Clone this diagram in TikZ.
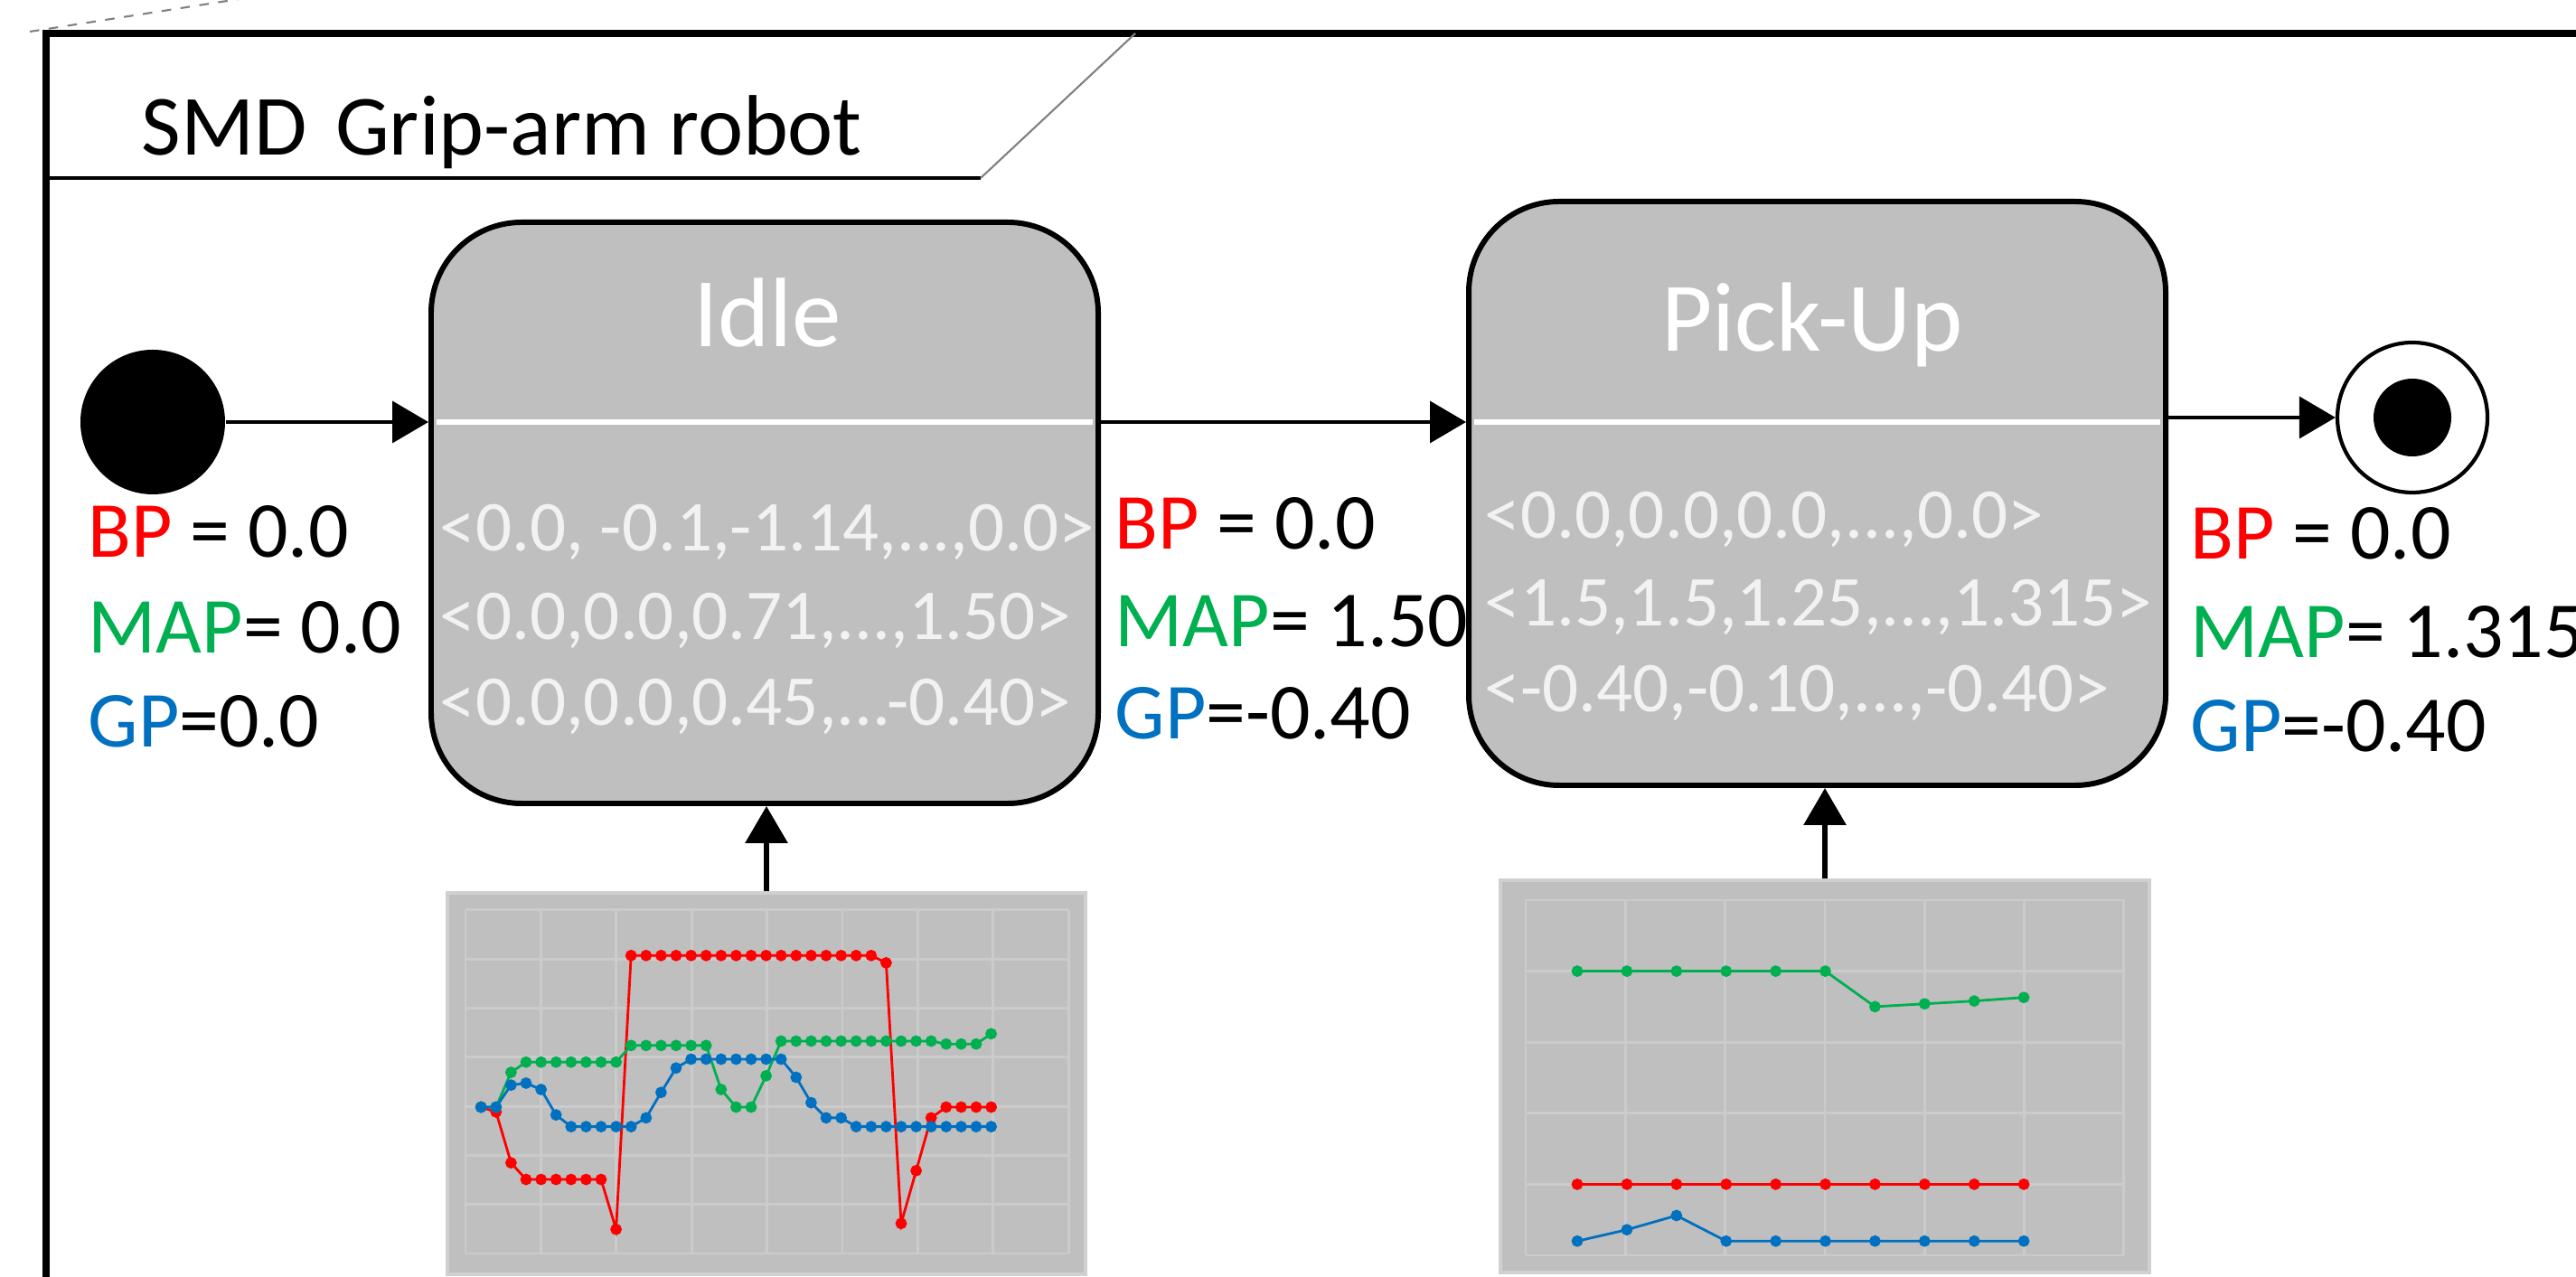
\documentclass[tikz,border=0pt]{standalone}
\usepackage{fontspec}
\setmainfont{Carlito}
\usetikzlibrary{arrows.meta, positioning, calc}

\definecolor{bpred}{RGB}{255,0,0}
\definecolor{mapgreen}{RGB}{0,176,80}
\definecolor{gpblue}{RGB}{0,112,192}
\definecolor{stategray}{RGB}{191,191,191}
\definecolor{gridgray}{RGB}{203,203,203}
\definecolor{rimgray}{RGB}{208,208,208}

\begin{document}
\begin{tikzpicture}[
		state/.style={draw, line width=1.7pt, fill=stategray, rounded corners=1cm, inner sep=0pt},
		statename/.style={text=white, font=\fontsize{31}{37}\selectfont, inner sep=0pt, anchor=base},
		vec/.style={text=white!95!black, font=\fontsize{22.5}{27}\selectfont, inner sep=0pt, anchor=base west},
		val/.style={font=\fontsize{25}{30}\selectfont, inner sep=0pt, anchor=base west},
		plotbox/.style={draw=rimgray, line width=1.2pt, fill=stategray, inner sep=0pt},
		gridline/.style={gridgray, line width=0.8pt},
		flow/.style={-{Triangle[length=4mm, width=4.6mm]}, line width=1.1pt},
		feed/.style={-{Triangle[length=4.1mm, width=4.6mm]}, line width=1.8pt},
		divider/.style={white, line width=1.7pt, shorten <=0.9mm, shorten >=0.9mm},
		series/.style={line width=0.8pt, mark size=1.4pt}
		]
		\useasboundingbox (0,0) rectangle (28.5,14.12);
		\clip (0,0) rectangle (28.5,14.12);

		% frame of the state machine and its name tab
		\draw[gray, dashed, line width=0.6pt] (0.33,13.77) -- (2.9,14.17);
		\draw[line width=2.3pt] (0.51,-1) -- (0.51,13.75) -- (29,13.75);
		\draw[line width=1.1pt] (0.51,12.15) -- (10.85,12.15);
		\draw[gray, line width=0.6pt] (10.85,12.15) -- (12.56,13.75);
		\node[font=\fontsize{27}{32}\selectfont, inner sep=0pt, anchor=base west] (frametitle) at (1.56,12.40) {SMD\hskip0.33em Grip-arm robot};

		% pseudo states
		\node[circle, fill=black, minimum size=1.6cm, inner sep=0pt] (init) at (1.69,9.45) {};
		\node[circle, draw, line width=1.2pt, minimum size=1.66cm, inner sep=0pt] (final) at (26.69,9.50) {};
		\node[circle, fill=black, minimum size=0.86cm, inner sep=0pt] (finaldot) at (final) {};

		% states
		\node[state, minimum width=7.38cm, minimum height=6.43cm] (idle) at (8.46,8.445) {};
		\node[state, minimum width=7.71cm, minimum height=6.46cm] (pickup) at (20.105,8.66) {};
		\draw[divider] (idle.west |- init) -- (idle.east |- init);
		\draw[divider] (pickup.west |- init) -- (pickup.east |- init);
		\node[statename] (idlename) at (8.49,10.28) {Idle};
		\node[statename] (pickupname) at (20.05,10.23) {Pick-Up};

		\node[vec] (idlebp) at (4.86,8.02) {<0.0, -0.1,-1.14,...,0.0>};
		\node[vec] (idlemap) at (4.86,7.04) {<0.0,0.0,0.71,...,1.50>};
		\node[vec] (idlegp) at (4.86,6.09) {<0.0,0.0,0.45,...-0.40>};
		\node[vec] (pickupbp) at (16.42,8.16) {<0.0,0.0,0.0,...,0.0>};
		\node[vec] (pickupmap) at (16.42,7.19) {<1.5,1.5,1.25,...,1.315>};
		\node[vec] (pickupgp) at (16.42,6.24) {<-0.40,-0.10,...,-0.40>};

		% values on the transitions
		\node[val] (bpa) at (0.97,7.95) {\textcolor{bpred}{BP} = 0.0};
		\node[val] (mapa) at (0.97,6.89) {\textcolor{mapgreen}{MAP}= 0.0};
		\node[val] (gpa) at (0.97,5.85) {\textcolor{gpblue}{GP}=0.0};
		\node[val] (bpb) at (12.33,8.04) {\textcolor{bpred}{BP} = 0.0};
		\node[val] (mapb) at (12.33,6.96) {\textcolor{mapgreen}{MAP}= 1.50};
		\node[val] (gpb) at (12.33,5.94) {\textcolor{gpblue}{GP}=-0.40};
		\node[val] (bpc) at (24.23,7.93) {\textcolor{bpred}{BP} = 0.0};
		\node[val] (mapc) at (24.23,6.84) {\textcolor{mapgreen}{MAP}= 1.315};
		\node[val] (gpc) at (24.23,5.80) {\textcolor{gpblue}{GP}=-0.40};

		% transitions
		\draw[flow] (init) -- (idle.west |- init);
		\draw[flow] (idle.east |- init) -- (pickup.west |- init);
		\draw[flow] (pickup.east |- final) -- (final);

		% recorded signals feeding the states
		\node[plotbox, minimum width=7.06cm, minimum height=4.22cm] (idleplot) at (8.48,2.13) {};
		\node[plotbox, minimum width=7.18cm, minimum height=4.34cm] (pickupplot) at (20.19,2.21) {};
		\draw[feed] (idleplot) -- (idleplot.north |- idle.south);
		\draw[feed] (pickupplot) -- (pickupplot.north |- pickup.south);

		\begin{scope}[shift={(5.15,0.25)}, x=0.834cm, y=0.543cm]
			\foreach \c in {0,...,8} \draw[gridline] (\c,0) -- (\c,7);
			\foreach \r in {0,...,7} \draw[gridline] (0,\r) -- (8,\r);
		\end{scope}
		\begin{scope}[shift={(5.322,1.87)}, x=0.166cm, y=0.541cm]
			\draw[series, bpred] plot[mark=*] coordinates {(0,0) (1,-0.1) (2,-1.14) (3,-1.48) (4,-1.48) (5,-1.48) (6,-1.48) (7,-1.48) (8,-1.48) (9,-2.5) (10,3.1) (11,3.1) (12,3.1) (13,3.1) (14,3.1) (15,3.1) (16,3.1) (17,3.1) (18,3.1) (19,3.1) (20,3.1) (21,3.1) (22,3.1) (23,3.1) (24,3.1) (25,3.1) (26,3.1) (27,2.95) (28,-2.38) (29,-1.3) (30,-0.22) (31,0) (32,0) (33,0) (34,0)};
			\draw[series, mapgreen] plot[mark=*] coordinates {(0,0) (1,0) (2,0.71) (3,0.92) (4,0.92) (5,0.92) (6,0.92) (7,0.92) (8,0.92) (9,0.92) (10,1.26) (11,1.26) (12,1.26) (13,1.26) (14,1.26) (15,1.26) (16,0.36) (17,0) (18,0) (19,0.64) (20,1.35) (21,1.35) (22,1.35) (23,1.35) (24,1.35) (25,1.35) (26,1.35) (27,1.35) (28,1.35) (29,1.35) (30,1.35) (31,1.29) (32,1.29) (33,1.29) (34,1.5)};
			\draw[series, gpblue] plot[mark=*] coordinates {(0,0) (1,0) (2,0.45) (3,0.49) (4,0.36) (5,-0.16) (6,-0.4) (7,-0.4) (8,-0.4) (9,-0.4) (10,-0.4) (11,-0.22) (12,0.3) (13,0.8) (14,0.98) (15,0.98) (16,0.98) (17,0.98) (18,0.98) (19,0.98) (20,0.98) (21,0.61) (22,0.09) (23,-0.22) (24,-0.22) (25,-0.4) (26,-0.4) (27,-0.4) (28,-0.4) (29,-0.4) (30,-0.4) (31,-0.4) (32,-0.4) (33,-0.4) (34,-0.4)};
		\end{scope}

		\begin{scope}[shift={(16.88,0.23)}, x=1.103cm, y=0.786cm]
			\foreach \c in {0,...,6} \draw[gridline] (\c,0) -- (\c,5);
			\foreach \r in {0,...,5} \draw[gridline] (0,\r) -- (6,\r);
		\end{scope}
		\begin{scope}[shift={(17.45,1.016)}, x=0.549cm, y=1.572cm]
			\draw[series, bpred] plot[mark=*] coordinates {(0,0) (1,0) (2,0) (3,0) (4,0) (5,0) (6,0) (7,0) (8,0) (9,0)};
			\draw[series, mapgreen] plot[mark=*] coordinates {(0,1.5) (1,1.5) (2,1.5) (3,1.5) (4,1.5) (5,1.5) (6,1.25) (7,1.27) (8,1.29) (9,1.315)};
			\draw[series, gpblue] plot[mark=*] coordinates {(0,-0.4) (1,-0.32) (2,-0.22) (3,-0.4) (4,-0.4) (5,-0.4) (6,-0.4) (7,-0.4) (8,-0.4) (9,-0.4)};
		\end{scope}
	\end{tikzpicture}
\end{document}
